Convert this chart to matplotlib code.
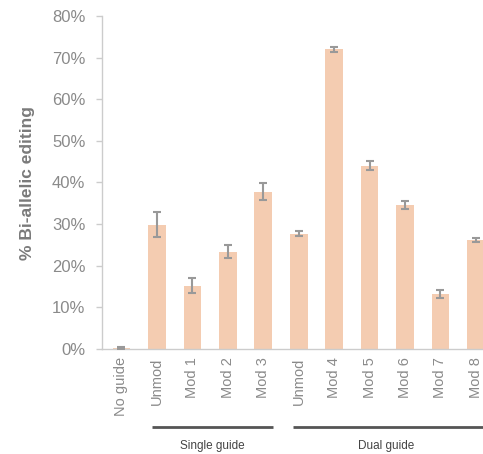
import numpy as np
import matplotlib.pyplot as plt
from matplotlib.ticker import PercentFormatter

# % bi-allelic editing per guide design
samples = ['No guide', 'Unmod', 'Mod 1', 'Mod 2', 'Mod 3',
           'Unmod', 'Mod 4', 'Mod 5', 'Mod 6', 'Mod 7', 'Mod 8']
editing = [0.3, 29.8, 15.2, 23.4, 37.8, 27.7, 72.0, 44.0, 34.6, 13.2, 26.1]
err = [0.2, 3.0, 1.8, 1.6, 2.1, 0.6, 0.6, 1.1, 0.9, 1.0, 0.5]

groups = ['Single guide', 'Dual guide']
group_span = [(0.85, 4.28), (4.84, 10.6)]
label_mid = [2.57, 7.47]

bar_color = '#F4CCB1'
grey = '#8a8a8a'

plt.rcParams['font.family'] = ['Liberation Sans', 'DejaVu Sans']

fig = plt.figure(figsize=(4.83, 4.54), dpi=100)
ax = fig.add_axes([102 / 483, 1 - 349 / 454, 1 - 102 / 483, 333 / 454])

x = np.arange(len(samples))
ax.bar(x, editing, width=0.5, color=bar_color, zorder=2)
ax.errorbar(x, editing, yerr=err, fmt='none', ecolor='#999999',
            elinewidth=1.5, capsize=2.6, capthick=1.5, zorder=3)

ax.set_ylim(0, 80)
ax.set_xlim(-0.55, 10.2)
ax.yaxis.set_major_formatter(PercentFormatter(decimals=0))
ax.set_yticks(np.arange(0, 81, 10))
ax.set_xticks(x)
ax.set_xticklabels(samples, rotation=90)
ax.tick_params(axis='y', colors='#cccccc', labelcolor=grey, labelsize=12,
               length=4, width=1, direction='out', pad=8)
ax.tick_params(axis='x', length=0, labelcolor=grey, labelsize=10.5, pad=6)

for side in ['top', 'right']:
    ax.spines[side].set_visible(False)
for side in ['left', 'bottom']:
    ax.spines[side].set_color('#cccccc')
    ax.spines[side].set_linewidth(1)

ax.set_ylabel('% Bi-allelic editing', color='#7a7a7a', fontsize=12.5,
              fontweight='bold', labelpad=12)

# group brackets under the tick labels
trans = ax.get_xaxis_transform()
for name, (lo, hi), mid in zip(groups, group_span, label_mid):
    ax.plot([lo, hi], [-0.233, -0.233], color='#555555', lw=2,
            transform=trans, clip_on=False, solid_capstyle='butt')
    ax.text(mid, -0.29, name, transform=trans, ha='center', va='center',
            fontsize=8.5, color='#444444')

fig.savefig('out.png', dpi=100, facecolor='white')
